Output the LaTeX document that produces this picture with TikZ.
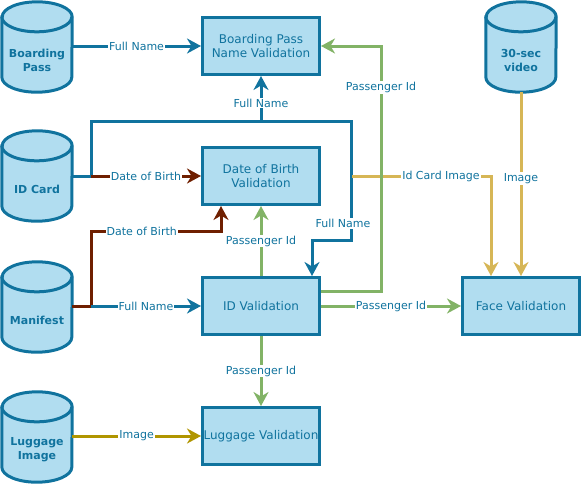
\documentclass[tikz,border=0pt]{standalone}
\usepackage{fontspec}
\setmainfont{DejaVu Sans}
\usetikzlibrary{arrows.meta,backgrounds}

\definecolor{dbblue}{HTML}{10739E}
\definecolor{dbfill}{HTML}{B1DDF0}
\definecolor{pidgreen}{HTML}{82B366}
\definecolor{dobbrown}{HTML}{6F1F00}
\definecolor{imgyellow}{HTML}{D6B656}
\definecolor{lugyellow}{HTML}{B09500}

\begin{document}
\begin{tikzpicture}[x=1pt,y=-1pt,
	store/.style={rectangle,minimum width=70,minimum height=90,inner sep=0pt},
	storetext/.style={text=dbblue,font=\bfseries\fontsize{11}{14}\selectfont,align=center,yshift=-13pt},
	storeline/.style={draw=dbblue,fill=dbfill,line width=3pt},
	check/.style={rectangle,draw=dbblue,fill=dbfill,line width=3pt,minimum width=117,minimum height=57,text=dbblue,font=\fontsize{12}{14}\selectfont,align=center,inner sep=1pt},
	flow/.style={line width=3pt,-{Stealth[length=14pt,width=15pt,inset=4.5pt]}},
	lbl/.style={fill=white,text=dbblue,font=\fontsize{11}{13}\selectfont,inner sep=1pt}
]
	\useasboundingbox (0,0) rectangle (583,483);

	% data sources
	\node[store,label={[storetext]center:{Boarding\\Pass}}] (bp) at (37,47) {};
	\node[store,label={[storetext]center:{ID Card}}] (idcard) at (37,176) {};
	\node[store,label={[storetext]center:{Manifest}}] (manifest) at (37,307) {};
	\node[store,label={[storetext]center:{Luggage\\Image}}] (luggimg) at (37,437) {};
	\node[store,label={[storetext]center:{30-sec\\video}}] (video) at (521,47) {};
	\begin{pgfonlayer}{background}
		\foreach \s in {bp,idcard,manifest,luggimg,video}{
			\path[storeline] ([yshift=-15pt]\s.north west) -- ([yshift=15pt]\s.south west)
				arc[start angle=180,end angle=360,x radius=35pt,y radius=15pt]
				-- ([yshift=-15pt]\s.north east)
				arc[start angle=0,end angle=180,x radius=35pt,y radius=15pt] -- cycle;
			\draw[storeline,fill=none] ([yshift=-15pt]\s.north west)
				arc[start angle=180,end angle=360,x radius=35pt,y radius=15pt];
		}
	\end{pgfonlayer}

	% validation steps
	\node[check] (bpnv) at (261,46) {Boarding Pass\\Name Validation};
	\node[check] (dobv) at (261,176) {Date of Birth\\Validation};
	\node[check] (idv) at (261,306) {ID Validation};
	\node[check] (lugv) at (261,436) {Luggage Validation};
	\node[check] (facev) at (521,306) {Face Validation};

	\coordinate (idsplit) at (91,176);
	\coordinate (mansplit) at (91,306);
	\coordinate (imgsrc) at (352,176);

	% full name
	\draw[flow,dbblue] (bp.east |- bpnv) -- node[lbl]{Full Name} (bpnv);
	\draw[flow,dbblue] (idcard.east |- idsplit) -- (idsplit) |- (261,121) -- node[lbl,pos=0.4]{Full Name} (bpnv);
	\draw[flow,dbblue] (idsplit) |- (351,121) -- node[lbl,pos=0.86,xshift=-8pt]{Full Name} (351,240) -| ([xshift=51pt]idv.north);

	% date of birth
	\draw[flow,dobbrown] (idsplit) -- node[lbl]{Date of Birth} (dobv);
	\draw[flow,dobbrown] (manifest.east |- mansplit) -- (mansplit) -- (91,231) -- node[lbl,pos=0.39]{Date of Birth} (221,231) -- ([xshift=-40pt]dobv.south);
	\draw[flow,dbblue] (mansplit) -- node[lbl]{Full Name} (idv);

	% images
	\draw[flow,imgyellow] (imgsrc) -| node[lbl,pos=0.32]{Id Card Image} ([xshift=-30pt]facev.north);
	\draw[flow,imgyellow] (video) -- node[lbl,pos=0.47]{Image} (facev);
	\draw[flow,lugyellow] (luggimg.east |- lugv) -- node[lbl]{Image} (lugv);

	% passenger id
	\draw[flow,pidgreen] (idv) -- node[lbl]{Passenger Id} (dobv);
	\draw[flow,pidgreen] ([yshift=15pt]idv.east) -- (381,291) -- node[lbl,pos=0.83]{Passenger Id} (381,46) -- (bpnv);
	\draw[flow,pidgreen] (idv) -- node[lbl]{Passenger Id} (facev);
	\draw[flow,pidgreen] (idv) -- node[lbl]{Passenger Id} (lugv);
\end{tikzpicture}
\end{document}
